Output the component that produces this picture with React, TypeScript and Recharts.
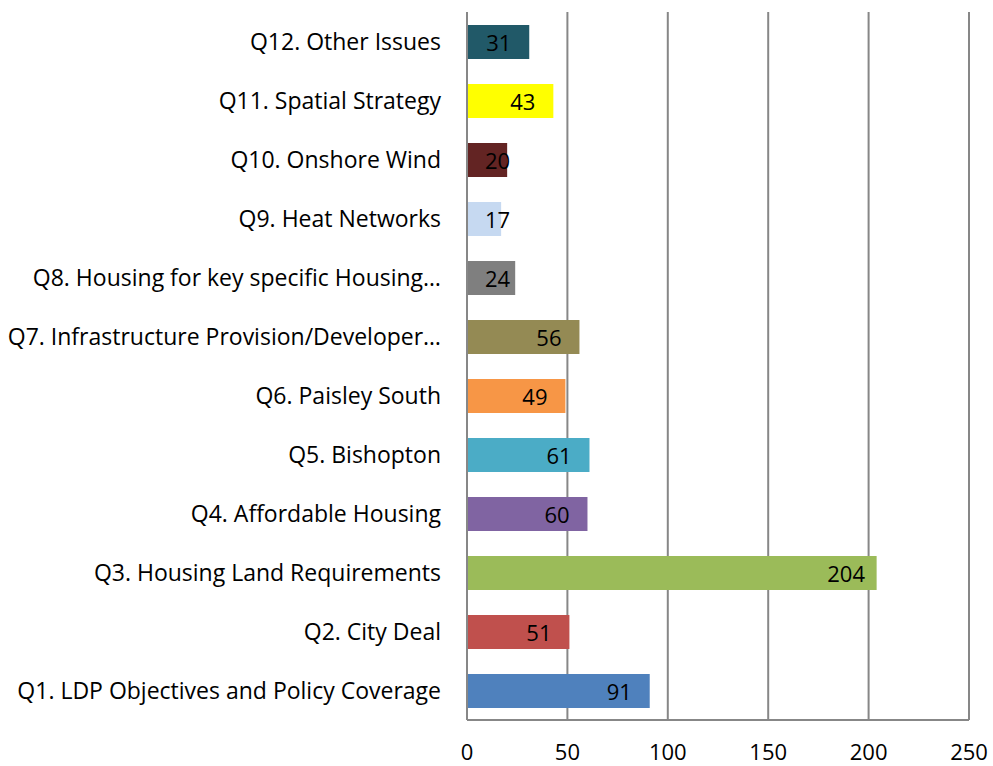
import React from "react";
import { BarChart, Bar, XAxis, YAxis, CartesianGrid, Cell, LabelList } from "recharts";

const categories = [
  "Q1. LDP Objectives and Policy Coverage",
  "Q2. City Deal",
  "Q3. Housing Land Requirements",
  "Q4. Affordable Housing",
  "Q5. Bishopton",
  "Q6. Paisley South",
  "Q7. Infrastructure Provision/Developer…",
  "Q8. Housing for key specific Housing…",
  "Q9. Heat Networks",
  "Q10. Onshore Wind",
  "Q11. Spatial Strategy",
  "Q12. Other Issues",
];
const values = [91, 51, 204, 60, 61, 49, 56, 24, 17, 20, 43, 31];
const colors = [
  "#4F81BD", "#C0504D", "#9BBB59", "#8064A2", "#4BACC6", "#F79646",
  "#948A54", "#7F7F7F", "#C6D9F1", "#632423", "#FFFF00", "#215968",
];
const xTicks = [0, 50, 100, 150, 200, 250];

const data = categories.map((name, i) => ({ name, value: values[i] }));

const FONT = "'Open Sans', Lato, sans-serif";

const ValueLabel = (props: any) => {
  const { x, y, width, height, value } = props;
  const half = 30.5;
  const cx = x + Math.max(half, width - half);
  return (
    <text
      x={cx}
      y={y + height / 2}
      textAnchor="middle"
      dominantBaseline="central"
      fontSize={22}
      fontFamily={FONT}
      fill="#000"
    >
      {value}
    </text>
  );
};

export default function App() {
  return (
    <div style={{ position: "absolute", left: 0, top: 0, background: "#fff" }}>
      <BarChart
        width={993}
        height={766}
        data={data}
        layout="vertical"
        margin={{ top: 12, right: 24, bottom: 0, left: 0 }}
        barCategoryGap="21%"
      >
        <CartesianGrid horizontal={false} vertical={true} stroke="#878787" strokeWidth={2} />
        <XAxis
          type="number"
          domain={[0, 250]}
          ticks={xTicks}
          interval={0}
          axisLine={{ stroke: "#878787", strokeWidth: 2 }}
          tickLine={false}
          tickSize={0}
          tickMargin={24}
          height={46}
          tick={{ fontSize: 22, fill: "#000", fontFamily: FONT }}
        />
        <YAxis
          type="category"
          dataKey="name"
          reversed
          width={467}
          interval={0}
          axisLine={{ stroke: "#878787", strokeWidth: 2 }}
          tickLine={false}
          tickSize={0}
          tickMargin={26}
          tick={{ fontSize: 23, fill: "#000", fontFamily: FONT }}
        />
        <Bar dataKey="value" isAnimationActive={false} barSize={34}>
          {data.map((d, i) => (
            <Cell key={d.name} fill={colors[i]} />
          ))}
          <LabelList dataKey="value" content={ValueLabel} />
        </Bar>
      </BarChart>
    </div>
  );
}
